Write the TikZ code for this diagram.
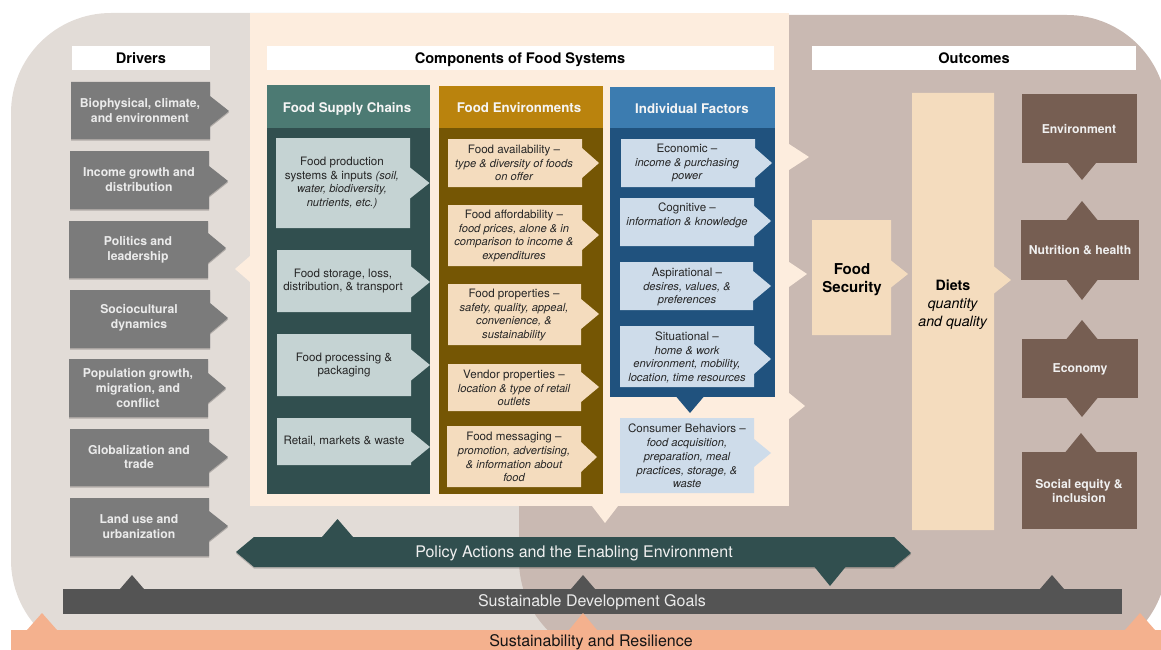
\documentclass[tikz,border=0pt]{standalone}
\usepackage{fontspec}
\setmainfont{TeX Gyre Heros}
\definecolor{cLeft}{HTML}{E2DCD7}
\definecolor{cRight}{HTML}{C9B9B2}
\definecolor{cCream}{HTML}{FDEDDE}
\definecolor{cOrange}{HTML}{F4B18E}
\definecolor{cSlate}{HTML}{545454}
\definecolor{cGreenD}{HTML}{314F4F}
\definecolor{cGreenH}{HTML}{4C7A73}
\definecolor{cTeal}{HTML}{C5D3D3}
\definecolor{cGold}{HTML}{BA830D}
\definecolor{cBrownD}{HTML}{755604}
\definecolor{cBlueH}{HTML}{3C7CB0}
\definecolor{cBlueD}{HTML}{20527E}
\definecolor{cBlueL}{HTML}{CEDCEA}
\definecolor{cTan}{HTML}{F4DCBE}
\definecolor{cGray}{HTML}{7B7B7B}
\definecolor{cMocha}{HTML}{765E52}
\newcommand{\szA}{\fontsize{12.2}{14.8}\selectfont}
\newcommand{\szB}{\fontsize{11.6}{13.8}\selectfont}
\newcommand{\emtxt}[1]{{\fontsize{11.15}{13.8}\selectfont\itshape #1}}
% colour, x0, y0, x1, y1, tip x, tip y, half height
\newcommand{\rightbox}[8]{\fill[#1] (#2,#3) -- (#4,#3) -- (#4,{#7-#8}) -- (#6,#7) -- (#4,{#7+#8}) -- (#4,#5) -- (#2,#5) -- cycle;}
\newcommand{\shadowbox}[8]{\fill[black,opacity=.22] (#2,{#3+1.5}) -- (#4,{#3+1.5}) -- (#4,{#7-#8+1.5}) -- (#6,{#7+1.5}) -- (#4,{#7+#8+1.5}) -- (#4,{#5+1.5}) -- (#2,{#5+1.5}) -- cycle;\rightbox{#1}{#2}{#3}{#4}{#5}{#6}{#7}{#8}}
% colour, centre x, half width, base y, tip y
\newcommand{\vtip}[5]{\fill[#1] ({#2-#3},#4) -- (#2,#5) -- ({#2+#3},#4) -- cycle;}
\tikzset{
  drivertext/.style={font=\szA\bfseries,text=white!92!black,align=center,inner sep=0pt},
  itemtext/.style={font=\szB,text=black!85,align=center,inner sep=0pt,yshift=-1pt},
  headtext/.style={font=\fontsize{13.3}{16}\selectfont\bfseries,text=white!96!black,align=center,inner sep=0pt,yshift=-1.5pt},
  titletext/.style={font=\fontsize{14.6}{16}\selectfont\bfseries,text=black,inner sep=0pt,yshift=-1.5pt},
  outtext/.style={font=\szA\bfseries,text=white!94!black,align=center,inner sep=0pt,yshift=-1pt},
  bandtext/.style={font=\fontsize{16}{18}\selectfont,inner sep=0pt,yshift=-1.2pt},
}
\begin{document}
\begin{tikzpicture}[x=1pt,y=-1pt]
\useasboundingbox (0,0) rectangle (1161,650);
\clip (0,0) rectangle (1161,650);
% backgrounds
\fill[cLeft,rounded corners=100pt] (11,13) rectangle (620,660);
\fill[cRight,rounded corners=100pt] (519,15) rectangle (1167,660);
% cream panel with its arrows
\fill[cCream] (250,13) rectangle (789,506);
\vtip{cCream}{605}{13}{506}{523}
\fill[cCream] (250,256) -- (235,269) -- (250,282) -- cycle;
\fill[cCream] (789,144) -- (809,157) -- (789,170) -- cycle;
\fill[cCream] (789,262) -- (807,274) -- (789,287) -- cycle;
\fill[cCream] (789,393) -- (805,406) -- (789,419) -- cycle;
% title bars
\fill[white] (72,46) rectangle (210,70);
\fill[white] (267,46) rectangle (774,70);
\fill[white] (812,46) rectangle (1136,70);
\node[titletext] (tDrivers) at (141,57) {Drivers};
\node[titletext] (tComp) at (520,58) {Components of Food Systems};
\node[titletext] (tOut) at (974,57) {Outcomes};
% drivers
\shadowbox{cGray}{71}{82}{210}{139}{229}{111}{15}
\shadowbox{cGray}{70}{151}{209}{209}{228}{181}{15}
\shadowbox{cGray}{69}{221}{208}{278}{226}{248}{15}
\shadowbox{cGray}{70}{290}{210}{348}{228}{318}{15}
\shadowbox{cGray}{69}{359}{208}{417}{226}{388}{15}
\shadowbox{cGray}{70}{429}{209}{486}{228}{457}{15}
\shadowbox{cGray}{70}{498}{209}{556}{228}{526}{15}
\node[drivertext] (d1) at (140,110.5) {Biophysical, climate,\\and environment};
\node[drivertext] (d2) at (139,180) {Income growth and\\distribution};
\node[drivertext] (d3) at (138,250) {Politics and\\leadership};
\node[drivertext] (d4) at (139,318) {Sociocultural\\dynamics};
\node[drivertext] (d5) at (138,388) {Population growth,\\migration, and\\conflict};
\node[drivertext] (d6) at (139,457) {Globalization and\\trade};
\node[drivertext] (d7) at (139,527) {Land use and\\urbanization};
% food supply chains
\fill[cGreenD] (267,128) rectangle (430,494);
\fill[cGreenH] (267,85) rectangle (430,128);
\node[headtext] (h1) at (347,107.5) {Food Supply Chains};
\rightbox{cTeal}{276}{138}{410}{228}{429.5}{183}{15.5}
\rightbox{cTeal}{277}{250}{411}{312}{430}{282}{15.5}
\rightbox{cTeal}{277}{334}{411}{396}{430}{365}{15.5}
\rightbox{cTeal}{277}{418}{411}{465}{430}{447}{15.5}
\node[itemtext] (s1) at (342,182) {Food production\\systems \& inputs \emtxt{(soil,}\\\emtxt{water, biodiversity,}\\\emtxt{nutrients, etc.)}};
\node[itemtext] (s2) at (343,280) {Food storage, loss,\\distribution, \& transport};
\node[itemtext] (s3) at (344,364) {Food processing \&\\packaging};
\node[itemtext] (s4) at (344,440) {Retail, markets \& waste};
% food environments
\fill[cBrownD] (439,128) rectangle (603,494);
\fill[cGold] (439,86) rectangle (603,128);
\node[headtext] (h2) at (519,106) {Food Environments};
\rightbox{cTan}{448}{139}{582}{187}{599}{163}{15}
\rightbox{cTan}{448}{205}{582}{266}{599}{235}{15}
\rightbox{cTan}{448}{284}{581}{345}{599}{314}{15}
\rightbox{cTan}{448}{364}{581}{411}{599}{387}{15}
\rightbox{cTan}{447}{426}{581}{487}{597}{457}{15}
\node[itemtext] (e1) at (514,162) {Food availability --\\\emtxt{type \& diversity of foods}\\\emtxt{on offer}};
\node[itemtext] (e2) at (514,235) {Food affordability --\\\emtxt{food prices, alone \& in}\\\emtxt{comparison to income \&}\\\emtxt{expenditures}};
\node[itemtext] (e3) at (514,314) {Food properties --\\\emtxt{safety, quality, appeal,}\\\emtxt{convenience, \&}\\\emtxt{sustainability}};
\node[itemtext] (e4) at (514,387) {Vendor properties --\\\emtxt{location \& type of retail}\\\emtxt{outlets}};
\node[itemtext] (e5) at (514,456) {Food messaging --\\\emtxt{promotion, advertising,}\\\emtxt{\& information about}\\\emtxt{food}};
% individual factors
\fill[cBlueD] (610,128) rectangle (775,397);
\vtip{cBlueD}{690}{13.5}{397}{413}
\fill[cBlueH] (610,87) rectangle (775,128);
\node[headtext] (h3) at (692,107) {Individual Factors};
\rightbox{cBlueL}{621}{139}{755}{187}{772}{163}{15}
\rightbox{cBlueL}{620}{198}{754}{246}{771}{221}{15}
\rightbox{cBlueL}{620}{262}{753}{310}{771}{286}{15}
\rightbox{cBlueL}{620}{326}{754}{387}{771}{359}{15}
\rightbox{cBlueL}{620}{418}{754}{493}{771}{453}{14}
\node[itemtext] (i1) at (687,162) {Economic --\\\emtxt{income \& purchasing}\\\emtxt{power}};
\node[itemtext] (i2) at (687,214) {Cognitive --\\\emtxt{information \& knowledge}};
\node[itemtext] (i3) at (687,286) {Aspirational --\\\emtxt{desires, values, \&}\\\emtxt{preferences}};
\node[itemtext] (i4) at (687,356.5) {Situational --\\\emtxt{home \& work}\\\emtxt{environment, mobility,}\\\emtxt{location, time resources}};
\node[itemtext] (i5) at (687,455) {Consumer Behaviors --\\\emtxt{food acquisition,}\\\emtxt{preparation, meal}\\\emtxt{practices, storage, \&}\\\emtxt{waste}};
% food security and diets
\rightbox{cTan}{812}{220}{891}{335}{908}{274}{13.5}
\rightbox{cTan}{912}{93}{994}{530}{1011}{280}{13.5}
\node[font=\fontsize{15}{18}\selectfont\bfseries,align=center,inner sep=0pt,yshift=-2pt] (fs) at (852,278) {Food\\Security};
\node[font=\fontsize{14.2}{18}\selectfont,align=center,inner sep=0pt,yshift=-2pt] (diets) at (953,303) {\textbf{Diets}\\\textit{quantity}\\\textit{and quality}};
% outcomes
\fill[cMocha] (1022,94) rectangle (1137,163);
\vtip{cMocha}{1082}{14}{163}{180}
\fill[cMocha] (1021,220) rectangle (1139,280);
\vtip{cMocha}{1082}{15.5}{220}{201}
\vtip{cMocha}{1082}{15.5}{280}{300}
\fill[cMocha] (1022,339) rectangle (1138,398);
\vtip{cMocha}{1082}{15.5}{339}{320}
\vtip{cMocha}{1082}{15.5}{398}{417}
\fill[cMocha] (1022,452) rectangle (1137,529);
\vtip{cMocha}{1081}{15.5}{452}{433}
\node[outtext] (o1) at (1079,128) {Environment};
\node[outtext] (o2) at (1080,249.5) {Nutrition \& health};
\node[outtext] (o3) at (1080,368) {Economy};
\node[outtext] (o4) at (1079,490) {Social equity \&\\inclusion};
% policy band
\fill[black,opacity=.2] (254,538.5) -- (236,553.5) -- (254,568.5) -- (894,568.5) -- (911,554.5) -- (894,538.5) -- cycle;
\fill[cGreenD] (254,537) -- (236,552) -- (254,567) -- (894,567) -- (911,553) -- (894,537) -- cycle;
\vtip{cGreenD}{337.5}{15.5}{537}{519}
\vtip{cGreenD}{830}{15.5}{567}{586}
\node[bandtext,text=white!94!black] (policy) at (574,552) {Policy Actions and the Enabling Environment};
% SDG band
\fill[cSlate] (63,589) rectangle (1122,614);
\vtip{cSlate}{132}{12}{589}{575}
\vtip{cSlate}{583}{12}{589}{575}
\vtip{cSlate}{1052}{12}{589}{575}
\node[bandtext,text=white!92!black] (sdg) at (592,601) {Sustainable Development Goals};
% sustainability band
\fill[cOrange] (11,630) rectangle (1161,650);
\vtip{cOrange}{42}{15}{630}{613}
\vtip{cOrange}{583}{14}{630}{613}
\vtip{cOrange}{1140}{15}{630}{613}
\node[font=\fontsize{16}{18}\selectfont,text=black!92,inner sep=0pt,yshift=-2pt] (sus) at (591,640) {Sustainability and Resilience};
\end{tikzpicture}
\end{document}
